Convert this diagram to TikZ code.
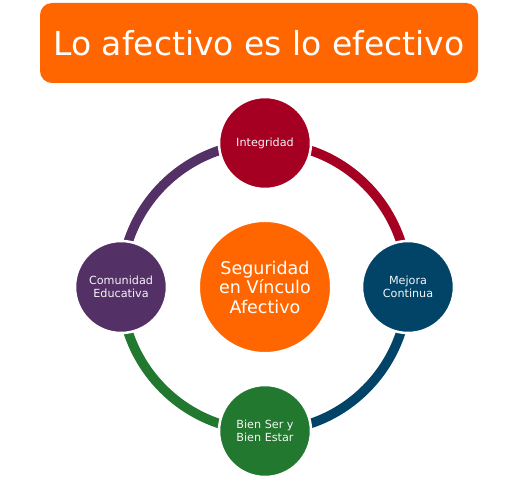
\documentclass[tikz,border=0pt]{standalone}
\usepackage{fontspec}
\setmainfont{DejaVu Sans}
\definecolor{orangeA}{HTML}{FF6600}
\definecolor{crimsonA}{HTML}{A50021}
\definecolor{navyA}{HTML}{014468}
\definecolor{greenA}{HTML}{237830}
\definecolor{purpleA}{HTML}{533066}
\tikzset{
  ring/.style={line width=9.5pt},
  petal/.style={circle, draw=white, line width=2.5pt, minimum size=92pt, inner sep=0pt,
    text=white!92!gray, align=center, font=\fontsize{11.2}{12.5}\selectfont},
  hub/.style={circle, draw=white, line width=2pt, fill=orangeA, minimum size=132pt, inner sep=0pt,
    text=white, align=center, font=\fontsize{17.5}{19.5}\selectfont},
  titlebox/.style={rectangle, rounded corners=12pt, fill=orangeA, minimum width=438pt,
    minimum height=80pt, text=white, font=\fontsize{33}{36}\selectfont}
}
\begin{document}
\begin{tikzpicture}[x=1pt,y=1pt]
\useasboundingbox (0,0) rectangle (530,480);
\node[titlebox] (title) at (259,437) {Lo afectivo es lo efectivo};
\coordinate (ct) at (265,337);
\coordinate (cr) at (408,193);
\coordinate (cb) at (265,49);
\coordinate (cl) at (121,193);
\draw[ring, crimsonA] (ct) to[out=0,in=90] (cr);
\draw[ring, navyA] (cr) to[out=-90,in=0] (cb);
\draw[ring, greenA] (cb) to[out=180,in=-90] (cl);
\draw[ring, purpleA] (cl) to[out=90,in=180] (ct);
\node[hub] (hub) at (265,193) {Seguridad\\en Vínculo\\Afectivo};
\node[petal, fill=crimsonA] (top) at (ct) {Integridad};
\node[petal, fill=navyA] (right) at (cr) {Mejora\\Continua};
\node[petal, fill=greenA] (bottom) at (cb) {Bien Ser y\\Bien Estar};
\node[petal, fill=purpleA] (left) at (cl) {Comunidad\\Educativa};
\end{tikzpicture}
\end{document}
